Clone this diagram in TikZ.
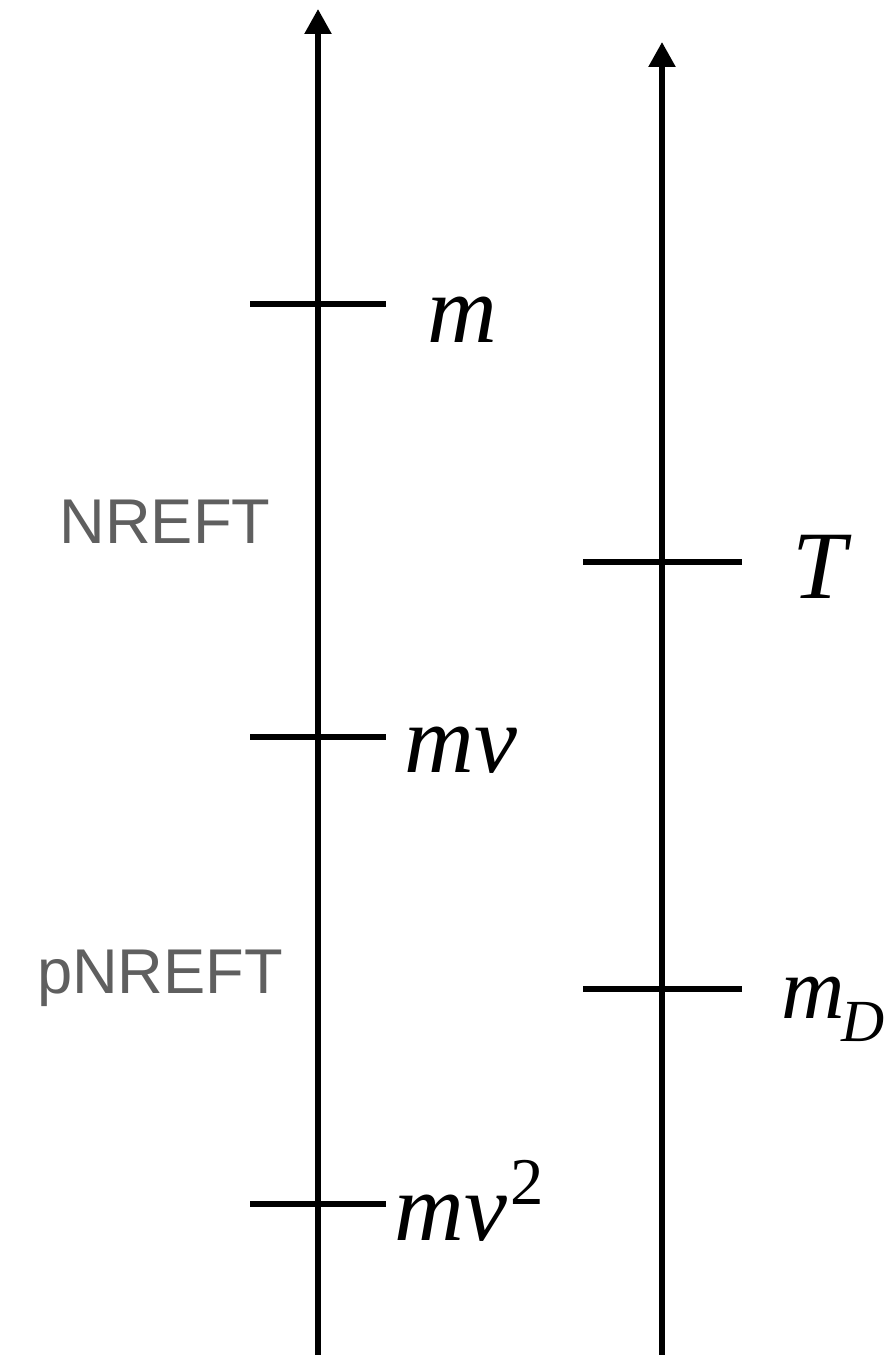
\documentclass[tikz,border=0pt]{standalone}
\usepackage{fontspec}
\setmainfont{Liberation Serif}
\newfontfamily\eftsans{Liberation Sans}
\usetikzlibrary{arrows.meta}
\definecolor{eftGray}{HTML}{5F5F5F}
\newcommand{\supr}[1]{\kern2pt\raisebox{20pt}{\fontsize{38}{42}\selectfont\upshape #1}}
\newcommand{\subl}[1]{\kern-2pt\raisebox{-13.5pt}{\fontsize{34}{38}\selectfont #1}}

\begin{document}
\begin{tikzpicture}[x=0.02cm, y=-0.02cm, line width=3.1pt,
  scalelbl/.style={anchor=base west, inner sep=0pt, font=\fontsize{55}{60}\selectfont\itshape},
  eftlbl/.style={anchor=base, inner sep=0pt, text=eftGray, font=\fontsize{36}{40}\selectfont\eftsans}]
\useasboundingbox (0,0) rectangle (892,1355);
% the two scale axes
\coordinate (lbot) at (318,1355);
\coordinate (ltop) at (318,9);
\coordinate (rbot) at (662,1355);
\coordinate (rtop) at (662,42);
\draw[-{Triangle[length=0.5cm, width=0.52cm]}] (lbot) -- (ltop);
\draw[-{Triangle[length=0.5cm, width=0.52cm]}] (rbot) -- (rtop);
% ticks and scales
\foreach \name/\xa/\xb/\ty/\lx/\by/\lbl in {
  m/250/386/304/425/342/m,
  mv/250/386/737/402/772/mv,
  mvv/250/386/1204/392/1240/mv\supr{2},
  T/583/742/562/790/598/T,
  mD/583/742/989/779/1018/{\fontsize{50}{55}\selectfont m\subl{D}}}
{
  \coordinate (\name-a) at (\xa,\ty);
  \coordinate (\name-b) at (\xb,\ty);
  \draw (\name-a) -- (\name-b);
  \node[scalelbl] (lbl-\name) at (\lx,\by) {\lbl};
}
% regions
\node[eftlbl] (nreft) at (165,543) {NREFT};
\node[eftlbl] (pnreft) at (160,993) {pNREFT};
\end{tikzpicture}
\end{document}
